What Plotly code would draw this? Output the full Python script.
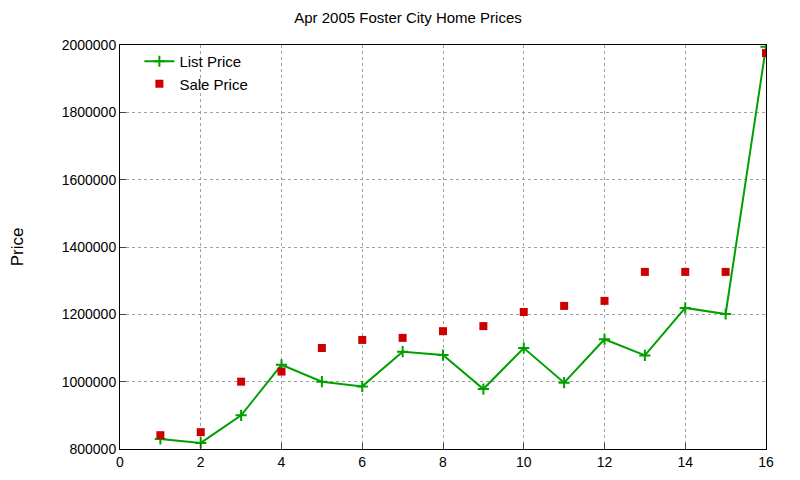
import plotly.graph_objects as go

x = list(range(1, 17))
list_price = [830000, 818000, 900000, 1050000, 1000000, 986000, 1089000, 1079000,
              978000, 1100000, 997000, 1126000, 1078000, 1219000, 1201000, 1995000]
sale_price = [841000, 850000, 1000000, 1030000, 1100000, 1124000, 1130000, 1150000,
              1165000, 1207000, 1225000, 1240000, 1326000, 1326000, 1326000, 1976000]

fig = go.Figure()
fig.add_trace(go.Scatter(x=x, y=list_price, mode="lines+markers", name="List Price",
                         line=dict(color="#00a000", width=2),
                         marker=dict(symbol="cross-thin", size=8, line=dict(color="#00a000", width=2))))
fig.add_trace(go.Scatter(x=x, y=sale_price, mode="markers", name="Sale Price",
                         marker=dict(symbol="square", size=8, color="#cc0000")))

axis = dict(showline=True, linecolor="black", mirror=True, ticks="inside", ticklen=6,
            showgrid=True, gridcolor="#a0a0a0", griddash="dot", gridwidth=1, zeroline=False,
            automargin=False, tickfont=dict(size=14, color="black"))
fig.update_layout(
    width=800, height=480, plot_bgcolor="white", paper_bgcolor="white",
    margin=dict(l=112, r=42, t=37, b=39),
    font=dict(family="Liberation Sans, Arial", size=14, color="black"),
    title=dict(text="Apr 2005 Foster City Home Prices", x=0.5, xanchor="center", y=0.99, yanchor="top",
               font=dict(size=15)),
    xaxis=dict(range=[0, 16], dtick=2, **axis),
    yaxis=dict(range=[800000, 2000000], dtick=200000, tickformat="d",
               title=dict(text="Price", standoff=40), **axis),
    legend=dict(x=0.03, y=1.0, xanchor="left", yanchor="top", bgcolor="rgba(0,0,0,0)",
                font=dict(size=15)),
    showlegend=True,
)
fig.write_html("out.html")
